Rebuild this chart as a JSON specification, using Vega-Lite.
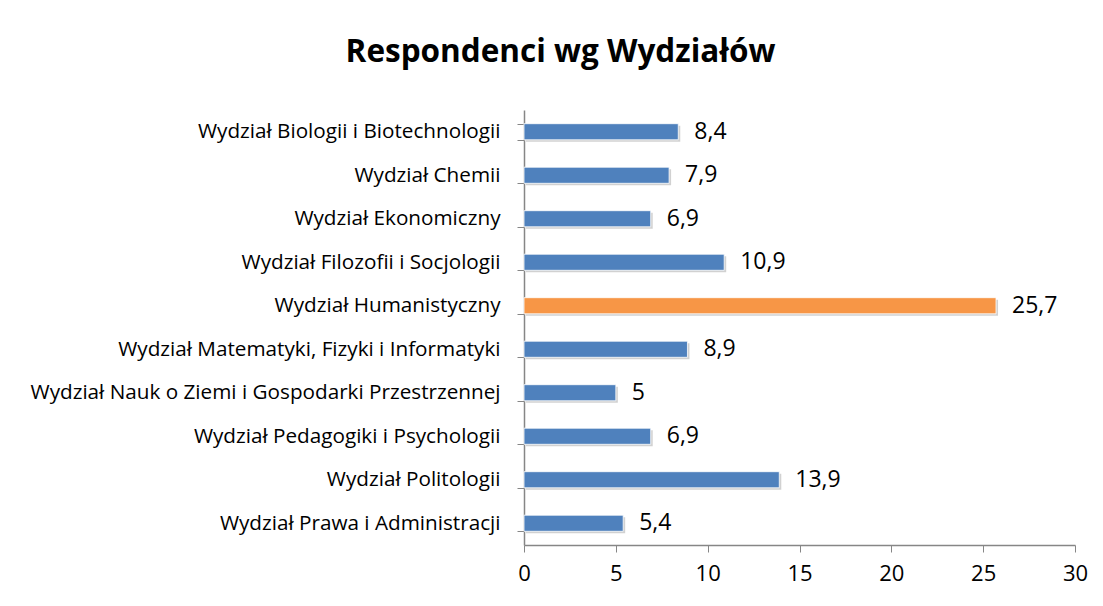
{
  "$schema": "https://vega.github.io/schema/vega-lite/v6.json",
  "width": 551,
  "height": 435,
  "autosize": "none",
  "padding": {"left": 524, "top": 110, "right": 28, "bottom": 61},
  "background": "white",
  "title": {
    "text": "Respondenci wg Wydziałów",
    "anchor": "middle",
    "frame": "group",
    "dx": -239,
    "offset": 31,
    "font": "Open Sans",
    "fontSize": 31.5,
    "fontWeight": "bold",
    "color": "#000000"
  },
  "config": {
    "locale": {"number": {"decimal": ",", "thousands": " ", "grouping": [3], "currency": ["", " zł"]}},
    "view": {"stroke": null},
    "axis": {"labelFont": "Open Sans", "labelColor": "#000000", "domainColor": "#868686", "tickColor": "#868686", "grid": false, "title": null}
  },
  "data": {
    "values": [
      {"wydzial": "Wydział Biologii i Biotechnologii", "proc": 8.4, "hl": "n"},
      {"wydzial": "Wydział Chemii", "proc": 7.9, "hl": "n"},
      {"wydzial": "Wydział Ekonomiczny", "proc": 6.9, "hl": "n"},
      {"wydzial": "Wydział Filozofii i Socjologii", "proc": 10.9, "hl": "n"},
      {"wydzial": "Wydział Humanistyczny", "proc": 25.7, "hl": "y"},
      {"wydzial": "Wydział Matematyki, Fizyki i Informatyki", "proc": 8.9, "hl": "n"},
      {"wydzial": "Wydział Nauk o Ziemi i Gospodarki Przestrzennej", "proc": 5, "hl": "n"},
      {"wydzial": "Wydział Pedagogiki i Psychologii", "proc": 6.9, "hl": "n"},
      {"wydzial": "Wydział Politologii", "proc": 13.9, "hl": "n"},
      {"wydzial": "Wydział Prawa i Administracji", "proc": 5.4, "hl": "n"}
    ]
  },
  "encoding": {
    "y": {
      "field": "wydzial",
      "type": "nominal",
      "sort": null,
      "scale": {"paddingInner": 0.63, "paddingOuter": 0.315},
      "axis": {"tickBand": "extent", "tickSize": 7, "labelPadding": 17, "labelFontSize": 20.7, "labelLimit": 600, "domainWidth": 1.5}
    },
    "x": {
      "field": "proc",
      "type": "quantitative",
      "scale": {"domain": [0, 30]},
      "axis": {"values": [0, 5, 10, 15, 20, 25, 30], "tickSize": 7, "labelPadding": 11, "labelFontSize": 22, "domainWidth": 1.5, "labelFlush": false}
    }
  },
  "layer": [
    {
      "mark": {"type": "bar", "color": "#000000", "opacity": 0.18, "xOffset": 2, "yOffset": 2}
    },
    {
      "mark": {"type": "bar", "stroke": "#ffffff", "strokeWidth": 0.8},
      "encoding": {
        "color": {"field": "hl", "type": "nominal", "scale": {"domain": ["n", "y"], "range": ["#4F81BD", "#F79646"]}, "legend": null}
      }
    },
    {
      "mark": {"type": "text", "align": "left", "baseline": "middle", "dx": 16, "font": "Open Sans", "fontSize": 23, "color": "#000000"},
      "encoding": {"text": {"field": "proc", "type": "quantitative", "format": ".1~f"}}
    }
  ]
}
